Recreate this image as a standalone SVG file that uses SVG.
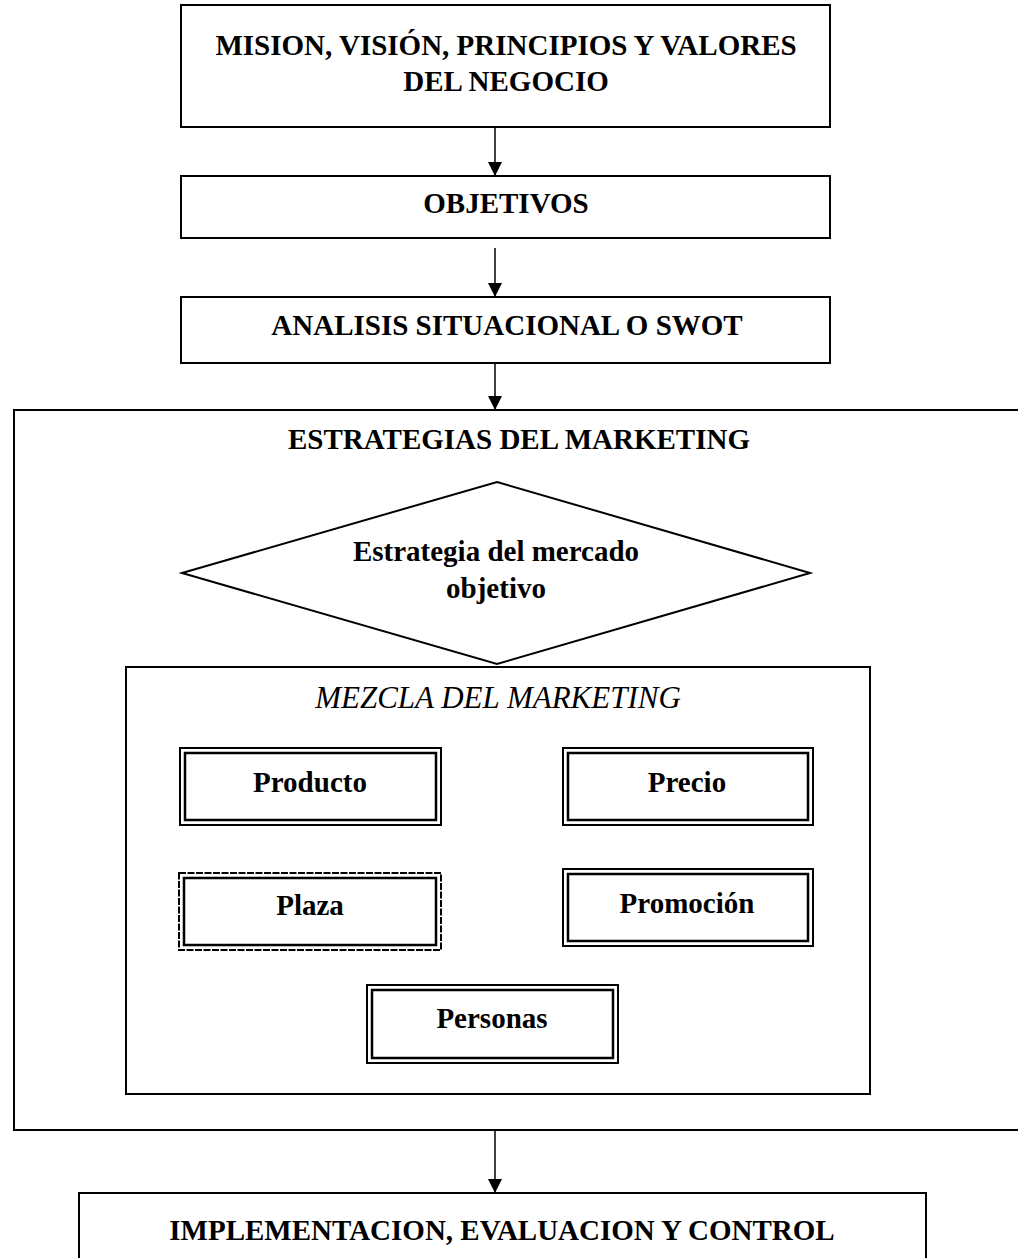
<svg xmlns="http://www.w3.org/2000/svg" width="1018" height="1258" viewBox="0 0 1018 1258">
<defs>
<marker id="ah" viewBox="0 0 14 14" refX="14" refY="7" markerWidth="14" markerHeight="14" markerUnits="userSpaceOnUse" orient="auto"><path d="M0,0 L14,7 L0,14 Z" fill="#000"/></marker>
</defs>
<style>
.box{fill:#fff;stroke:#000;stroke-width:2}
.t{font-family:"Liberation Serif","Times New Roman",serif;font-weight:bold;font-size:29px;text-anchor:middle;fill:#000}
.it{font-style:italic;font-weight:normal;font-size:31px}
.conn line{stroke:#000;stroke-width:1.5}
.dbo{fill:#fff;stroke:#000;stroke-width:2}
.dbi{fill:none;stroke:#000;stroke-width:2.5}
.dash{stroke-dasharray:7 1.5}
</style>
<rect width="1018" height="1258" fill="#fff"/>
<g id="mision">
<rect class="box" x="181" y="5" width="649" height="122"/>
<text class="t" x="506" y="55">MISION, VISIÓN, PRINCIPIOS Y VALORES</text>
<text class="t" x="506" y="91">DEL NEGOCIO</text>
</g>
<g id="objetivos">
<rect class="box" x="181" y="176" width="649" height="62"/>
<text class="t" x="506" y="213">OBJETIVOS</text>
</g>
<g id="analisis">
<rect class="box" x="181" y="297" width="649" height="66"/>
<text class="t" x="507" y="335">ANALISIS SITUACIONAL O SWOT</text>
</g>
<g id="estrategias">
<rect class="box" x="14" y="410" width="1012" height="720"/>
<text class="t" x="519" y="449">ESTRATEGIAS DEL MARKETING</text>
</g>
<g id="mercado">
<polygon class="box" points="497,482 810,573 497,664 182,573"/>
<text class="t" x="496" y="561">Estrategia del mercado</text>
<text class="t" x="496" y="598">objetivo</text>
</g>
<g id="mezcla">
<rect class="box" x="126" y="667" width="744" height="427"/>
<text class="t it" x="498" y="708">MEZCLA DEL MARKETING</text>
</g>
<g id="producto">
<rect class="dbo" x="180" y="748" width="261" height="77"/>
<rect class="dbi" x="185" y="753" width="251" height="67"/>
<text class="t" x="310" y="792">Producto</text>
</g>
<g id="precio">
<rect class="dbo" x="563" y="748" width="250" height="77"/>
<rect class="dbi" x="568" y="753" width="240" height="67"/>
<text class="t" x="687" y="792">Precio</text>
</g>
<g id="plaza">
<rect class="dbo dash" x="179" y="873" width="262" height="77"/>
<rect class="dbi" x="184" y="878" width="252" height="67"/>
<text class="t" x="310" y="915">Plaza</text>
</g>
<g id="promocion">
<rect class="dbo" x="563" y="869" width="250" height="77"/>
<rect class="dbi" x="568" y="874" width="240" height="67"/>
<text class="t" x="687" y="913">Promoción</text>
</g>
<g id="personas">
<rect class="dbo" x="367" y="985" width="251" height="78"/>
<rect class="dbi" x="372" y="990" width="241" height="68"/>
<text class="t" x="492" y="1028">Personas</text>
</g>
<g id="implementacion">
<rect class="box" x="79" y="1193" width="847" height="90"/>
<text class="t" x="502" y="1240">IMPLEMENTACION, EVALUACION Y CONTROL</text>
</g>
<g id="connectors" class="conn">
<line x1="495" y1="127" x2="495" y2="176" marker-end="url(#ah)"/>
<line x1="495" y1="248" x2="495" y2="297" marker-end="url(#ah)"/>
<line x1="495" y1="363" x2="495" y2="410" marker-end="url(#ah)"/>
<line x1="495" y1="1130" x2="495" y2="1193" marker-end="url(#ah)"/>
</g>
</svg>
